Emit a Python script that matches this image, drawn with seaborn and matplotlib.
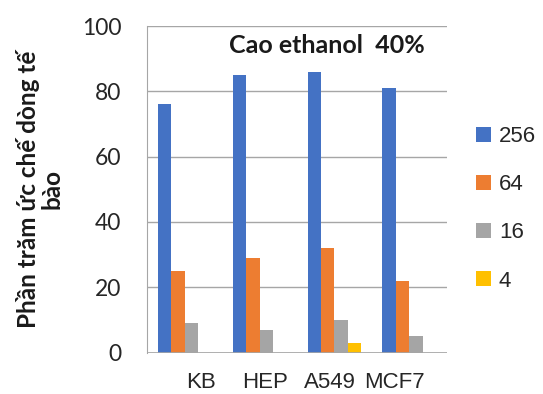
import matplotlib
matplotlib.use("Agg")
import matplotlib.pyplot as plt
import numpy as np
import pandas as pd
import seaborn as sns

cell_lines = ["KB", "HEP", "A549", "MCF7"]
concentrations = ["256", "64", "16", "4"]
inhibition = {
    "256": [76, 85, 86, 81],
    "64": [25, 29, 32, 22],
    "16": [9, 7, 10, 5],
    "4": [0, 0, 3, 0],
}
colors = ["#4472C4", "#ED7D31", "#A5A5A5", "#FFC000"]

rows = []
for conc in concentrations:
    for line, val in zip(cell_lines, inhibition[conc]):
        rows.append({"line": line, "conc": conc, "value": val})
df = pd.DataFrame(rows)

sns.set_style("white")
fig = plt.figure(figsize=(5.43, 3.94), dpi=100)
ax = fig.add_axes([0.271, 0.105, 0.552, 0.829])

sns.barplot(data=df, x="line", y="value", hue="conc", hue_order=concentrations,
            order=cell_lines, palette=colors, saturation=1, width=0.72, gap=0,
            edgecolor="none", ax=ax, legend=True)

ax.set_ylim(0, 100)
ax.set_xlim(-0.5, 3.5)
ax.set_yticks(range(0, 101, 20))
ax.yaxis.grid(True, color="#a6a6a6", linewidth=1.0)
ax.set_axisbelow(True)
for side in ["top", "right", "bottom"]:
    ax.spines[side].set_visible(False)
ax.spines["left"].set_color("#a6a6a6")
ax.axhline(0, color="#a6a6a6", linewidth=1.2, zorder=3)

# category boundary ticks below the axis
ax.set_xticks(np.arange(len(cell_lines) + 1) - 0.5, minor=True)
ax.tick_params(axis="x", which="minor", length=6.5, color="#a6a6a6", width=1)
# labels sit slightly compressed toward the middle, as in the source
pos = np.arange(len(cell_lines)) * 0.86 + 0.22
ax.set_xticks(pos)
ax.set_xticklabels(cell_lines, fontsize=16, family="Liberation Sans", color="#262626")
ax.tick_params(axis="x", which="major", length=0, pad=14)
ax.tick_params(axis="y", length=6.5, color="#a6a6a6", width=1, pad=12,
               labelsize=16.5, labelcolor="#262626")
for t in ax.get_yticklabels():
    t.set_family("Lato")

ax.set_xlabel("")
ax.set_ylabel("Phần trăm ức chế dòng tế\nbào", fontsize=17.5, fontweight="bold",
              family="Lato", color="#1a1a1a", linespacing=1.05, labelpad=13)

ax.text(0.60, 0.939, "Cao ethanol  40%", transform=ax.transAxes, ha="center", va="center",
        fontsize=18, fontweight="bold", family="Lato", color="#1a1a1a")

leg = ax.legend(loc="center left", bbox_to_anchor=(1.03, 0.44), frameon=False,
                prop={"family": "Liberation Sans", "size": 16},
                handlelength=0.68, handleheight=0.68, labelspacing=1.22, handletextpad=0.35)
for t in leg.get_texts():
    t.set_color("#262626")

fig.savefig("out.png", dpi=100)
